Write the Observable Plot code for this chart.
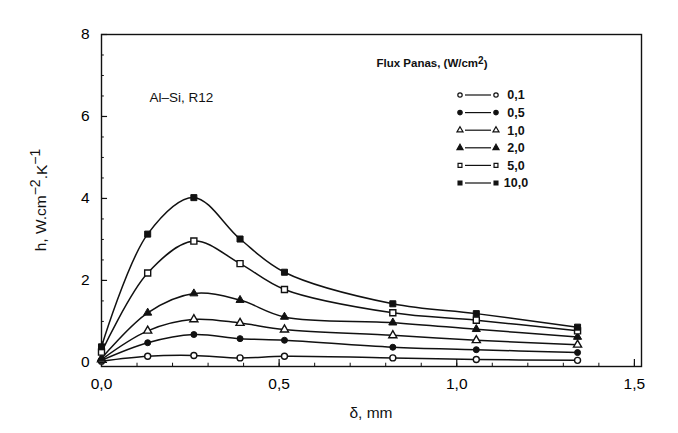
<!DOCTYPE html>
<html>
<head>
<meta charset="utf-8">
<script src="https://cdn.jsdelivr.net/npm/d3@7"></script>
<script src="https://cdn.jsdelivr.net/npm/@observablehq/plot@0.6"></script>
<style>
  html, body { margin: 0; padding: 0; background: #fff; }
  svg { font-family: "Liberation Sans", Arial, sans-serif; }
</style>
</head>
<body>
<div id="chart"></div>
<script>
// δ positions (mm)
const delta = [0, 0.13, 0.26, 0.39, 0.515, 0.82, 1.055, 1.34];
// Flux values (W/cm2) and their labels
const fluxes = ["0,1", "0,5", "1,0", "2,0", "5,0", "10,0"];
// h values (W.cm-2.K-1) per flux series
const h01  = [0.03, 0.15, 0.17, 0.11, 0.15, 0.11, 0.07, 0.05];
const h05  = [0.05, 0.48, 0.68, 0.58, 0.54, 0.37, 0.31, 0.24];
const h10  = [0.07, 0.77, 1.05, 0.96, 0.80, 0.66, 0.54, 0.43];
const h20  = [0.10, 1.21, 1.68, 1.52, 1.11, 0.97, 0.81, 0.62];
const h50  = [0.25, 2.18, 2.96, 2.41, 1.78, 1.21, 1.03, 0.77];
const h100 = [0.38, 3.13, 4.02, 3.01, 2.20, 1.43, 1.19, 0.86];
const seriesValues = [h01, h05, h10, h20, h50, h100];
const symbols = ["circle", "circle", "triangle", "triangle", "square", "square"];
const filled = [false, true, false, true, false, true];
const xTicks = [0, 0.5, 1.0, 1.5];
const yTicks = [0, 2, 4, 6, 8];
const xMinor = d3.range(0, 1.51, 0.1);
const yMinor = d3.range(0, 8.01, 0.5);

const data = [];
fluxes.forEach((f, i) => {
  seriesValues[i].forEach((v, j) => data.push({flux: f, x: delta[j], h: v, filled: filled[i], sym: symbols[i]}));
});

const sizes = {circle: 3.0, triangle: 3.0, square: 3.4};
const dotMarks = [];
for (const s of ["circle", "triangle", "square"]) {
  for (const fl of [false, true]) {
    dotMarks.push(Plot.dot(data.filter(d => d.sym === s && d.filled === fl), {
      x: "x", y: "h", symbol: "flux", r: sizes[s],
      fill: fl ? "#111" : "white", stroke: "#111", strokeWidth: fl ? 1 : 1.4
    }));
  }
}

const plot = Plot.plot({
  width: 678,
  height: 433,
  marginLeft: 101,
  marginRight: 37,
  marginTop: 34,
  marginBottom: 67,
  x: {domain: [0, 1.52]},
  y: {domain: [-0.1, 8]},
  symbol: {domain: fluxes, range: symbols},
  marks: [
    Plot.frame({stroke: "#111", strokeWidth: 1.4}),
    Plot.ruleY(yTicks, {x1: 0, x2: 0.017, stroke: "#111", strokeWidth: 1.2}),
    Plot.ruleY(yMinor, {x1: 0, x2: 0.008, stroke: "#111", strokeWidth: 1}),
    Plot.ruleX(xTicks, {y1: -0.1, y2: 0.07, stroke: "#111", strokeWidth: 1.2}),
    Plot.ruleX(xMinor, {y1: -0.1, y2: -0.02, stroke: "#111", strokeWidth: 1}),
    Plot.axisY({ticks: yTicks, tickSize: 0, tickPadding: 12, fontSize: 15.5, label: null, tickFormat: d => d}),
    Plot.axisX({ticks: xTicks, tickSize: 0, tickPadding: 11, fontSize: 15.5, label: null,
      tickFormat: d => d.toFixed(1).replace(".", ",")}),
    Plot.line(data, {x: "x", y: "h", z: "flux", curve: "catmull-rom", stroke: "#111", strokeWidth: 1.5}),
    ...dotMarks,
    Plot.text(["Al–Si, R12"], {frameAnchor: "top-left", dx: 48, dy: 58, fontSize: 13.5, textAnchor: "start", fill: "#111"})
  ]
});

const svg = d3.select(plot);

// y axis label with superscripts
const yl = svg.append("text")
  .attr("transform", "translate(46,200) rotate(-90)")
  .attr("text-anchor", "middle")
  .attr("font-size", 15.5)
  .attr("fill", "#111");
yl.append("tspan").text("h, W.cm");
yl.append("tspan").attr("dy", "-0.45em").attr("font-size", 14).text("−2");
yl.append("tspan").attr("dy", "0.45em").text(".K");
yl.append("tspan").attr("dy", "-0.45em").attr("font-size", 14).text("−1");

// x axis label
svg.append("text")
  .attr("x", 371).attr("y", 418)
  .attr("text-anchor", "middle")
  .attr("font-size", 15.5)
  .attr("fill", "#111")
  .text("δ, mm");

// legend
const lg = svg.append("g").attr("fill", "#111");
const lt = lg.append("text").attr("x", 432).attr("y", 67).attr("font-size", 11.5).attr("font-weight", "bold");
lt.append("tspan").text("Flux Panas, (W/cm");
lt.append("tspan").attr("dy", "-0.35em").attr("font-size", 10).text("2");
lt.append("tspan").attr("dy", "0.35em").text(")");
const symMap = {circle: d3.symbolCircle, triangle: d3.symbolTriangle, square: d3.symbolSquare};
fluxes.forEach((f, i) => {
  const y = 95 + i * 17.6;
  const sym = d3.symbol(symMap[symbols[i]], symbols[i] === "triangle" ? 16 : 15);
  [460, 496].forEach(x => {
    lg.append("path").attr("d", sym()).attr("transform", `translate(${x},${y})`)
      .attr("fill", filled[i] ? "#111" : "white").attr("stroke", "#111").attr("stroke-width", 1.2);
  });
  lg.append("line").attr("x1", 465).attr("x2", 491).attr("y1", y).attr("y2", y)
    .attr("stroke", "#111").attr("stroke-width", 1.2);
  lg.append("text").attr("x", 516).attr("y", y).attr("dy", "0.35em")
    .attr("font-size", 12.5).attr("font-weight", "bold").text(f);
});

document.getElementById("chart").appendChild(plot);
</script>
</body>
</html>
